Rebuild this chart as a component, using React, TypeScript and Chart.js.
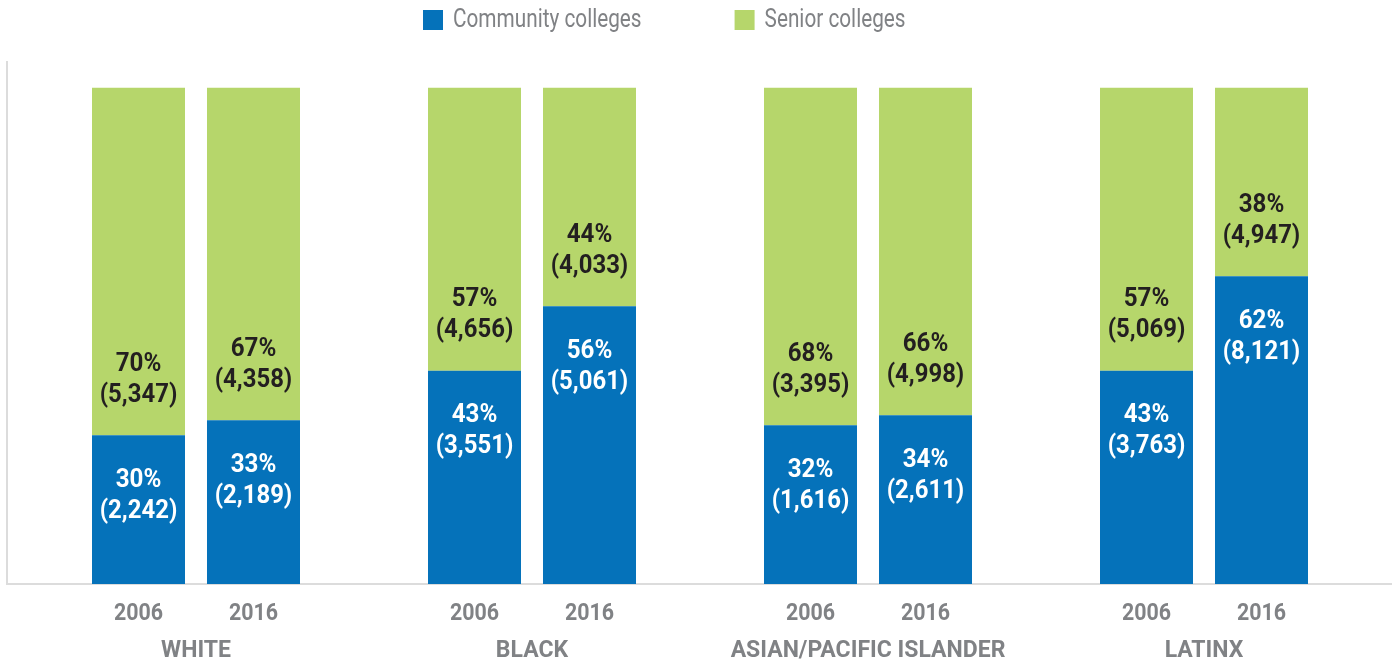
import React, { useEffect, useRef } from "react";
import { Chart, registerables } from "chart.js";

Chart.register(...registerables);

const groups = ["WHITE", "BLACK", "ASIAN/PACIFIC ISLANDER", "LATINX"];
const years = ["2006", "2016"];
const seriesNames = ["Community colleges", "Senior colleges"];

const community2006Pct = [30, 43, 32, 43];
const community2006Count = [2242, 3551, 1616, 3763];
const senior2006Pct = [70, 57, 68, 57];
const senior2006Count = [5347, 4656, 3395, 5069];
const community2016Pct = [33, 56, 34, 62];
const community2016Count = [2189, 5061, 2611, 8121];
const senior2016Pct = [67, 44, 66, 38];
const senior2016Count = [4358, 4033, 4998, 4947];

const BLUE = "#0572BA";
const GREEN = "#B6D66B";
const GRAY = "#808285";
const DARK = "#231F20";
const AXIS = "#DCDCDC";
const LABEL_FONT = "Roboto, 'Liberation Sans', sans-serif";

function squeezedText(ctx: any, text: string, x: number, y: number, sx: number) {
  ctx.save();
  ctx.translate(x, y);
  ctx.scale(sx, 1);
  ctx.fillText(text, 0, 0);
  ctx.restore();
}

const overlayPlugin = {
  id: "overlay",
  beforeDatasetsDraw(chart: any) {
    const { ctx, chartArea, scales } = chart;
    const y0 = scales.y.getPixelForValue(0);
    ctx.save();
    ctx.strokeStyle = AXIS;
    ctx.lineWidth = 2;
    ctx.beginPath();
    ctx.moveTo(chartArea.left - 21, chartArea.top);
    ctx.lineTo(chartArea.left - 21, y0);
    ctx.lineTo(chartArea.right + 20, y0);
    ctx.stroke();
    ctx.restore();
  },
  afterDatasetsDraw(chart: any) {
    const { ctx, scales } = chart;
    const y0 = scales.y.getPixelForValue(0);
    ctx.save();
    ctx.textAlign = "center";
    ctx.textBaseline = "middle";
    chart.data.datasets.forEach((ds: any, di: number) => {
      const meta = chart.getDatasetMeta(di);
      meta.data.forEach((bar: any, i: number) => {
        const { x, y, base } = bar.getProps(["x", "y", "base"], true);
        const isCC = ds.kind === "cc";
        const cy = isCC ? y + 60 : base - 56;
        ctx.fillStyle = isCC ? "#FFFFFF" : DARK;
        ctx.font = `bold 26px ${LABEL_FONT}`;
        squeezedText(ctx, `${ds.data[i]}%`, x, cy - 15, 0.93);
        squeezedText(ctx, `(${ds.counts[i].toLocaleString("en-US")})`, x, cy + 16, 0.92);
        if (isCC) {
          ctx.fillStyle = GRAY;
          ctx.font = `bold 23px ${LABEL_FONT}`;
          squeezedText(ctx, ds.year, x, y0 + 30, 0.93);
        }
      });
    });
    // legend (condensed look)
    ctx.textAlign = "left";
    ctx.font = `25px ${LABEL_FONT}`;
    const squeeze = 0.83;
    let lx = 423;
    const items = [chart.data.datasets[0], chart.data.datasets[1]];
    items.forEach((ds: any) => {
      ctx.fillStyle = ds.backgroundColor;
      ctx.fillRect(lx, 10, 20, 20);
      ctx.fillStyle = GRAY;
      squeezedText(ctx, ds.series, lx + 30, 21, squeeze);
      lx += 30 + ctx.measureText(ds.series).width * squeeze + 93;
    });
    ctx.restore();
  },
};

export default function App() {
  const canvasRef = useRef<HTMLCanvasElement | null>(null);

  useEffect(() => {
    if (!canvasRef.current) return;
    const mk = (kind: string, year: string, data: number[], counts: number[]) => ({
      label: `${kind === "cc" ? seriesNames[0] : seriesNames[1]} ${year}`,
      series: kind === "cc" ? seriesNames[0] : seriesNames[1],
      kind,
      year,
      stack: year,
      data,
      counts,
      backgroundColor: kind === "cc" ? BLUE : GREEN,
      borderWidth: 0,
      categoryPercentage: 0.6845,
      barPercentage: 0.8087,
    });
    const chart = new Chart(canvasRef.current, {
      type: "bar",
      data: {
        labels: groups,
        datasets: [
          mk("cc", years[0], community2006Pct, community2006Count),
          mk("sc", years[0], senior2006Pct, senior2006Count),
          mk("cc", years[1], community2016Pct, community2016Count),
          mk("sc", years[1], senior2016Pct, senior2016Count),
        ] as any,
      },
      options: {
        animation: false,
        responsive: false,
        maintainAspectRatio: false,
        devicePixelRatio: 1,
        layout: { padding: { top: 61, left: 28, right: 23, bottom: -54.6 } },
        plugins: {
          legend: { display: false },
          tooltip: { enabled: false },
        },
        scales: {
          x: {
            stacked: true,
            grid: { display: false, drawTicks: false },
            border: { display: false },
            ticks: {
              color: GRAY,
              font: { family: LABEL_FONT, size: 23, weight: "bold" },
              padding: 53,
              maxRotation: 0,
              autoSkip: false,
            },
          },
          y: { stacked: true, display: false, min: 0, max: 105.4 },
        },
      } as any,
      plugins: [overlayPlugin],
    });
    return () => chart.destroy();
  }, []);

  return (
    <div style={{ position: "fixed", left: 0, top: 0, width: 1395, height: 663, background: "#fff" }}>
      <canvas ref={canvasRef} width={1395} height={663} style={{ display: "block", width: 1395, height: 663 }} />
    </div>
  );
}
